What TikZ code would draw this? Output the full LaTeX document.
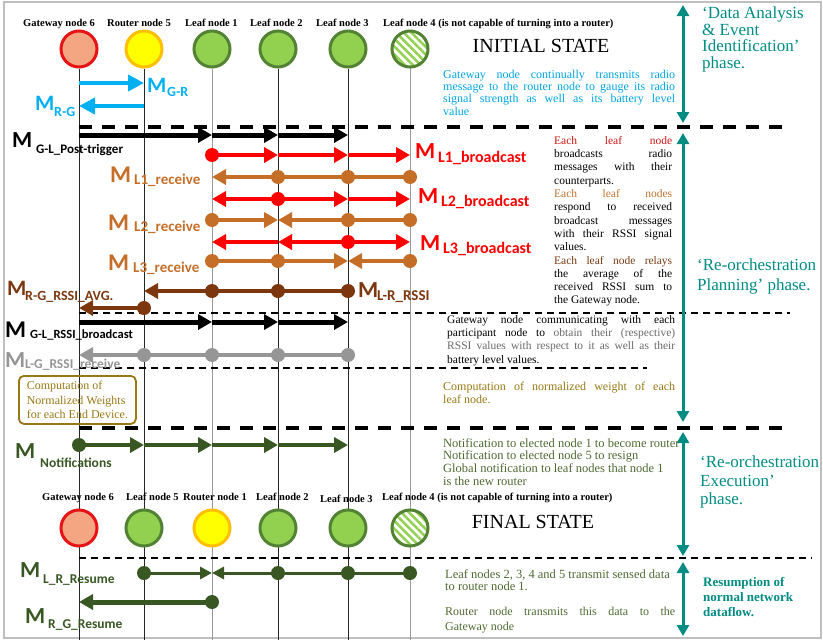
\documentclass[tikz,border=0pt]{standalone}
\usepackage{fontspec}
\setmainfont{Liberation Serif}
\newfontfamily\calfont{Carlito}
\usetikzlibrary{arrows.meta,patterns.meta,backgrounds}
\definecolor{cy}{RGB}{0,176,240}
\definecolor{cytxt}{RGB}{0,165,225}
\definecolor{rd}{RGB}{255,0,0}
\definecolor{rdtxt}{RGB}{210,20,20}
\definecolor{org}{RGB}{197,110,40}
\definecolor{orgtxt}{RGB}{190,115,50}
\definecolor{brn}{RGB}{125,55,15}
\definecolor{brntxt}{RGB}{120,60,20}
\definecolor{gry}{RGB}{150,150,150}
\definecolor{gtxt}{RGB}{105,105,105}
\definecolor{dgr}{RGB}{56,87,35}
\definecolor{dgrtxt}{RGB}{80,105,50}
\definecolor{tealc}{RGB}{0,140,130}
\definecolor{olv}{RGB}{150,120,20}
\definecolor{gwfill}{RGB}{244,165,130}
\definecolor{gwline}{RGB}{230,20,20}
\definecolor{rtfill}{RGB}{255,255,0}
\definecolor{rtline}{RGB}{255,190,0}
\definecolor{lffill}{RGB}{146,208,80}
\definecolor{lfline}{RGB}{84,130,53}
\newcommand\jl[2]{\makebox[#1][s]{#2}}
\begin{document}
\begin{tikzpicture}[x=1pt,y=-1pt,
  lbl/.style={anchor=base west, inner sep=0, font=\bfseries\fontsize{10.5}{12}\selectfont},
  nd/.style={circle, minimum size=36pt, inner sep=0, line width=3pt},
  gw/.style={nd, draw=gwline, fill=gwfill},
  rt/.style={nd, draw=rtline, fill=rtfill},
  lf/.style={nd, draw=lfline, fill=lffill},
  lfh/.style={nd, draw=lfline, preaction={fill=white}, pattern={Lines[angle=-45,distance=5.5pt,line width=2.4pt]}, pattern color=lffill},
  life/.style={line width=0.9pt, draw=black!85},
  lifeg/.style={line width=0.9pt, draw=black!40},
  ar/.style={line width=4pt, -{Triangle[length=14pt,width=15pt]}},
  arthin/.style={line width=3pt, -{Triangle[length=12pt,width=12pt]}},
  dsh/.style={line width=3.5pt, dash pattern=on 13pt off 10pt},
  dsht/.style={line width=1.6pt, dash pattern=on 7pt off 5pt},
  phase/.style={line width=3pt, draw=tealc, {Triangle[length=11pt,width=12pt]}-{Triangle[length=11pt,width=12pt]}},
  Mb/.style={anchor=base west, inner sep=0, font=\calfont\bfseries\fontsize{#1}{#1}\selectfont},
  Ms/.style={anchor=base west, inner sep=0, font=\calfont\bfseries\fontsize{#1}{#1}\selectfont},
  para/.style={anchor=north west, inner sep=0, align=left, font=\fontsize{10.5}{12.3}\selectfont},
  ph/.style={anchor=north west, inner sep=0, align=left, text=tealc},
  dot/.style={circle, inner sep=0, minimum size=14pt, fill=#1},
  ]
\useasboundingbox (0,0) rectangle (823,640);
% row coordinates
\coordinate (bot) at (0,640);
\coordinate (rGR) at (0,83);
\coordinate (rRG) at (0,106);
\coordinate (rPT) at (0,135);
\coordinate (rB1) at (0,155);
\coordinate (rR1) at (0,177);
\coordinate (rB2) at (0,199);
\coordinate (rR2) at (0,220);
\coordinate (rB3) at (0,242);
\coordinate (rR3) at (0,261);
\coordinate (rLR) at (0,291);
\coordinate (rRGA) at (0,308);
\coordinate (rGLB) at (0,322);
\coordinate (rLGR) at (0,355);
\coordinate (rN) at (0,445);
\coordinate (rLRR) at (0,573);
\coordinate (rRGR) at (0,602);
% circles
\node[gw] (cG) at (79,49) {};
\node[rt] (cR) at (144,49) {};
\node[lf] (c1) at (212,49) {};
\node[lf] (c2) at (278,49) {};
\node[lf] (c3) at (348,49) {};
\node[lfh] (c4) at (410,49) {};
\node[gw] (dG) at (79,528) {};
\node[lf] (d5) at (144,528) {};
\node[rt] (d1) at (212,528) {};
\node[lf] (d2) at (278,528) {};
\node[lf] (d3) at (348,528) {};
\node[lfh] (d4) at (410,528) {};
\begin{scope}[on background layer]
\draw[gray!50, line width=1.2pt] (4,2) rectangle (821,638);
\draw[life] (cG.south) -- (cG|-bot);
\draw[life] (cR.south) -- (cR|-bot);
\draw[lifeg] (c1.south) -- (c1|-bot);
\draw[life] (c2.south) -- (c2|-bot);
\draw[life] (c3.south) -- (c3|-bot);
\draw[lifeg] (c4.south) -- (c4|-bot);
\end{scope}
% node labels
\node[lbl] (tG) at (23,26) {Gateway node 6};
\node[lbl] (tR) at (107,26) {Router node 5};
\node[lbl] (t1) at (185,26) {Leaf node 1};
\node[lbl] (t2) at (250,26) {Leaf node 2};
\node[lbl] (t3) at (316,26) {Leaf node 3};
\node[lbl] (t4) at (383,26) {Leaf node 4 (is not capable of turning into a router)};
\node[lbl] (bG) at (42,500) {Gateway node 6};
\node[lbl] (b5) at (126,500) {Leaf node 5};
\node[lbl] (b1) at (183,500) {Router node 1};
\node[lbl] (b2) at (256,500) {Leaf node 2};
\node[lbl] (b3) at (320,502) {Leaf node 3};
\node[lbl] (b4) at (382,500) {Leaf node 4 (is not capable of turning into a router)};
\node[anchor=base, inner sep=0, font=\fontsize{20}{20}\selectfont] (init) at (541,52) {INITIAL STATE};
\node[anchor=base, inner sep=0, font=\fontsize{20}{20}\selectfont] (final) at (533,528) {FINAL STATE};
% dashed separators
\coordinate (e1) at (790,127);
\coordinate (e2) at (790,313);
\coordinate (e3) at (647,368);
\coordinate (e4) at (787,428);
\coordinate (e5) at (812,558);
\draw[dsh] (cG|-e1) -- (e1);
\draw[dsht] (cG|-e2) -- (e2);
\draw[dsht] (cG|-e3) -- (e3);
\draw[dsh] (cG|-e4) -- (e4);
\draw[dsht] (cG|-e5) -- (e5);
% cyan
\draw[ar,cy,-{Triangle[length=16pt,width=16pt]}] (cG|-rGR) -- (cR|-rGR);
\draw[ar,cy,-{Triangle[length=16pt,width=16pt]}] (cR|-rRG) -- (cG|-rRG);
\node[Mb=22, text=cy] (mGR) at (147,92) {M};
\node[Ms=14, text=cy] (mGRs) at (167,96) {G-R};
\node[Mb=22, text=cy] (mRG) at (35,110) {M};
\node[Ms=14, text=cy] (mRGs) at (54,116) {R-G};
% post trigger
\draw[ar,black,line width=5pt] (cG|-rPT) -- (c1|-rPT);
\draw[ar,black,line width=5pt] (c1|-rPT) -- (c2|-rPT);
\draw[ar,black,line width=5pt] (c2|-rPT) -- (c3|-rPT);
\node[Mb=23] (mPT) at (12,147) {M};
\node[Ms=13] (mPTs) at (36,153) {G-L\_Post-trigger};
% L1 broadcast
\draw[ar,rd] (c1|-rB1) -- (c2|-rB1);
\draw[ar,rd] (c2|-rB1) -- (c3|-rB1);
\draw[ar,rd] (c3|-rB1) -- (c4|-rB1);
\node[dot=rd] (dB1a) at (c1|-rB1) {};
\node[Mb=23, text=rd] (mB1) at (415,158) {M};
\node[Ms=16, text=rd] (mB1s) at (438,162) {L1\_broadcast};
% L1 receive
\draw[ar,org] (c4|-rR1) -- (c1|-rR1);
\node[dot=org] (dR1a) at (c2|-rR1) {};
\node[dot=org] (dR1b) at (c3|-rR1) {};
\node[dot=org] (dR1c) at (c4|-rR1) {};
\node[Mb=24, text=org] (mR1) at (110,182) {M};
\node[Ms=15, text=org] (mR1s) at (134,184) {L1\_receive};
% L2 broadcast
\draw[ar,rd] (c2|-rB2) -- (c1|-rB2);
\draw[ar,rd] (c2|-rB2) -- (c3|-rB2);
\draw[ar,rd] (c3|-rB2) -- (c4|-rB2);
\node[dot=rd] (dB2a) at (c2|-rB2) {};
\node[Mb=23, text=rd] (mB2) at (418,203) {M};
\node[Ms=16, text=rd] (mB2s) at (441,206) {L2\_broadcast};
% L2 receive
\draw[ar,org] (c1|-rR2) -- (c2|-rR2);
\draw[ar,org] (c4|-rR2) -- (c2|-rR2);
\node[dot=org] (dR2a) at (c1|-rR2) {};
\node[dot=org] (dR2b) at (c3|-rR2) {};
\node[dot=org] (dR2c) at (c4|-rR2) {};
\node[Mb=24, text=org] (mR2) at (108,230) {M};
\node[Ms=15, text=org] (mR2s) at (134,231) {L2\_receive};
% L3 broadcast
\draw[ar,rd] (c3|-rB3) -- (c2|-rB3);
\draw[ar,rd] (c2|-rB3) -- (c1|-rB3);
\draw[ar,rd] (c3|-rB3) -- (c4|-rB3);
\node[dot=rd] (dB3a) at (c3|-rB3) {};
\node[Mb=23, text=rd] (mB3) at (420,250) {M};
\node[Ms=16, text=rd] (mB3s) at (443,253) {L3\_broadcast};
% L3 receive
\draw[ar,org] (c1|-rR3) -- (c3|-rR3);
\draw[ar,org] (c4|-rR3) -- (c3|-rR3);
\node[dot=org] (dR3a) at (c1|-rR3) {};
\node[dot=org] (dR3b) at (c2|-rR3) {};
\node[dot=org] (dR3c) at (c4|-rR3) {};
\node[Mb=24, text=org] (mR3) at (108,270) {M};
\node[Ms=15, text=org] (mR3s) at (133,272) {L3\_receive};
% L-R RSSI
\draw[ar,brn] (c3|-rLR) -- (cR|-rLR);
\node[dot=brn] (dLRa) at (c1|-rLR) {};
\node[dot=brn] (dLRb) at (c2|-rLR) {};
\node[dot=brn] (dLRc) at (c3|-rLR) {};
\node[Mb=23, text=brn] (mLR) at (358,297) {M};
\node[Ms=15, text=brn] (mLRs) at (377,300) {L-R\_RSSI};
% R-G RSSI AVG
\draw[ar,brn] (cR|-rRGA) -- (cG|-rRGA);
\node[dot=brn] (dRGA) at (cR|-rRGA) {};
\node[Mb=22, text=brn] (mRGA) at (7,295) {M};
\node[Ms=14, text=brn] (mRGAs) at (25,300) {R-G\_RSSI\_AVG.};
% G-L RSSI broadcast
\draw[ar,black,line width=5pt] (cG|-rGLB) -- (c1|-rGLB);
\draw[ar,black,line width=5pt] (c1|-rGLB) -- (c2|-rGLB);
\draw[ar,black,line width=5pt] (c2|-rGLB) -- (c3|-rGLB);
\node[Mb=24] (mGLB) at (5,337) {M};
\node[Ms=12.5] (mGLBs) at (30,338) {G-L\_RSSI\_broadcast};
% L-G RSSI receive
\draw[ar,gry] (c3|-rLGR) -- (cG|-rLGR);
\node[dot=gry] (dLGa) at (cR|-rLGR) {};
\node[dot=gry] (dLGb) at (c1|-rLGR) {};
\node[dot=gry] (dLGc) at (c2|-rLGR) {};
\node[dot=gry] (dLGd) at (c3|-rLGR) {};
\node[Mb=23, text=gry] (mLG) at (5,367) {M};
\node[Ms=13.5, text=gry] (mLGs) at (25,368) {L-G\_RSSI\_receive};
% box
\node[draw=olv, line width=1.8pt, rounded corners=5pt, text=olv, align=left, font=\fontsize{12}{14.5}\selectfont, inner sep=3pt, anchor=north west, minimum width=117pt, minimum height=48pt] (box) at (18,375) {Computation of\\Normalized Weights\\for each End Device.};
% notifications
\draw[ar,dgr] (cG|-rN) -- (cR|-rN);
\draw[ar,dgr] (cR|-rN) -- (c1|-rN);
\draw[ar,dgr] (c1|-rN) -- (c2|-rN);
\draw[ar,dgr] (c2|-rN) -- (c3|-rN);
\node[dot=dgr] (dN) at (cG|-rN) {};
\node[Mb=23, text=dgr] (mN) at (15,458) {M};
\node[Ms=13.5, text=dgr] (mNs) at (40,467) {Notifications};
% resume
\draw[arthin,dgr] (d5|-rLRR) -- (d1|-rLRR);
\draw[arthin,dgr] (d4|-rLRR) -- (d1|-rLRR);
\node[dot=dgr] (dLRRa) at (d5|-rLRR) {};
\node[dot=dgr] (dLRRb) at (d2|-rLRR) {};
\node[dot=dgr] (dLRRc) at (d3|-rLRR) {};
\node[dot=dgr] (dLRRd) at (d4|-rLRR) {};
\node[Mb=23, text=dgr] (mLRR) at (20,577) {M};
\node[Ms=13.5, text=dgr] (mLRRs) at (43,583) {L\_R\_Resume};
\draw[ar,dgr,line width=5pt] (d1|-rRGR) -- (dG|-rRGR);
\node[dot=dgr] (dRGR) at (d1|-rRGR) {};
\node[Mb=23, text=dgr] (mRGR) at (25,623) {M};
\node[Ms=13.5, text=dgr] (mRGRs) at (48,628) {R\_G\_Resume};
% phase arrows
\coordinate (p1a) at (683,5);
\coordinate (p1b) at (683,123);
\coordinate (p2a) at (683,133);
\coordinate (p2b) at (683,422);
\coordinate (p3a) at (683,432);
\coordinate (p3b) at (683,556);
\coordinate (p4a) at (683,562);
\coordinate (p4b) at (683,636);
\draw[phase] (p1a) -- (p1b);
\draw[phase] (p2a) -- (p2b);
\draw[phase] (p3a) -- (p3b);
\draw[phase] (p4a) -- (p4b);
% phase labels
\node[ph, font=\fontsize{17}{16.5}\selectfont] (phA) at (702,7) {`Data Analysis\\\& Event\\Identification'\\phase.};
\node[ph, font=\fontsize{17}{20}\selectfont] (phB) at (697,259) {`Re-orchestration\\Planning' phase.};
\node[ph, font=\fontsize{17}{18.5}\selectfont] (phC) at (700,456) {`Re-orchestration\\Execution'\\phase.};
\node[ph, font=\bfseries\fontsize{13}{15}\selectfont] (phD) at (703,577) {Resumption of\\normal network\\dataflow.};
% paragraphs
\node[para, text=cytxt, font=\fontsize{12}{12.2}\selectfont] (txA) at (443,70) {\jl{232pt}{Gateway node continually transmits radio}\\\jl{232pt}{message to the router node to gauge its radio}\\\jl{232pt}{signal strength as well as its battery level}\\value};
\node[para, font=\fontsize{11.5}{13.3}\selectfont] (txB) at (554,136) {\color{rdtxt}\jl{118pt}{Each leaf node}\\\jl{118pt}{broadcasts radio}\\\jl{118pt}{messages with their}\\counterparts.\\\color{orgtxt}\jl{118pt}{Each leaf nodes}\\\jl{118pt}{respond to received}\\\jl{118pt}{broadcast messages}\\\jl{118pt}{with their RSSI signal}\\values.\\\color{brntxt}\jl{118pt}{Each leaf node relays}\\\jl{118pt}{the average of the}\\\jl{118pt}{received RSSI sum to}\\the Gateway node.};
\node[para, font=\fontsize{11.5}{13.3}\selectfont] (txC) at (447,315) {\jl{228pt}{Gateway node communicating with each}\\\jl{228pt}{participant node to \color{gtxt}obtain their (respective)}\\\color{gtxt}\jl{228pt}{RSSI values with respect to it as well as their}\\battery level values.};
\node[para, text=olv, font=\fontsize{12}{13}\selectfont] (txD) at (443,382) {\jl{232pt}{Computation of normalized weight of each}\\leaf node.};
\node[para, text=dgrtxt, font=\fontsize{12.5}{12.8}\selectfont] (txE) at (443,438) {Notification to elected node 1 to become router\\Notification to elected node 5 to resign\\Global notification to leaf nodes that node 1\\is the new router};
\node[para, text=dgrtxt, font=\fontsize{12.5}{12.5}\selectfont] (txF) at (445,569) {Leaf nodes 2, 3, 4 and 5 transmit sensed data\\to router node 1.};
\node[para, text=dgrtxt, font=\fontsize{12}{14.5}\selectfont] (txG) at (445,607) {\jl{230pt}{Router node transmits this data to the}\\Gateway node};
\end{tikzpicture}
\end{document}
